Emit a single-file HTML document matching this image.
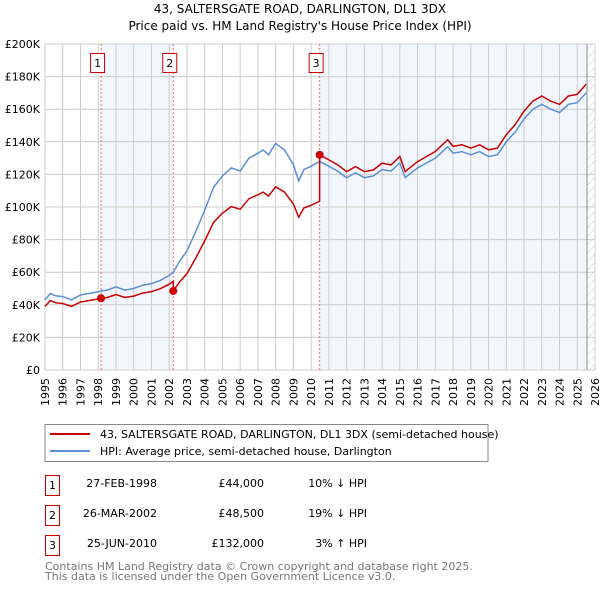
<!DOCTYPE html>
<html><head><meta charset="utf-8"><style>
body{margin:0;background:#fff;font-family:"DejaVu Sans","Liberation Sans",sans-serif;}
svg text{font-family:"DejaVu Sans","Liberation Sans",sans-serif;}
</style></head><body>
<svg width="600" height="590" viewBox="0 0 600 590" xmlns="http://www.w3.org/2000/svg">
<defs><pattern id="hatch" width="6" height="6" patternUnits="userSpaceOnUse" patternTransform="rotate(45)"><line x1="0" y1="0" x2="0" y2="6" stroke="#ccc" stroke-width="1"/></pattern></defs>
<text x="300" y="13" text-anchor="middle" font-size="12" fill="#000">43, SALTERSGATE ROAD, DARLINGTON, DL1 3DX</text>
<text x="300" y="30" text-anchor="middle" font-size="12" fill="#000">Price paid vs. HM Land Registry's House Price Index (HPI)</text>
<g id="plot"></g>
<g>
<rect x="45" y="424.5" width="443" height="37" fill="#fff" stroke="#888"/>
<line x1="50" y1="434" x2="90" y2="434" stroke="#cc0000" stroke-width="2"/>
<text x="100" y="438" font-size="11">43, SALTERSGATE ROAD, DARLINGTON, DL1 3DX (semi-detached house)</text>
<line x1="50" y1="451" x2="90" y2="451" stroke="#5b8fd6" stroke-width="2"/>
<text x="100" y="455" font-size="11">HPI: Average price, semi-detached house, Darlington</text>
</g>
<g font-size="11">
<rect x="45.5" y="475.5" width="14" height="20" fill="none" stroke="#cc0000"/><text x="52.5" y="489" text-anchor="middle">1</text>
<text x="157" y="487" text-anchor="end">27-FEB-1998</text><text x="264" y="487" text-anchor="end">£44,000</text><text x="367" y="487" text-anchor="end">10% ↓ HPI</text>
<rect x="45.5" y="505.5" width="14" height="20" fill="none" stroke="#cc0000"/><text x="52.5" y="519" text-anchor="middle">2</text>
<text x="157" y="517" text-anchor="end">26-MAR-2002</text><text x="264" y="517" text-anchor="end">£48,500</text><text x="367" y="517" text-anchor="end">19% ↓ HPI</text>
<rect x="45.5" y="535.5" width="14" height="20" fill="none" stroke="#cc0000"/><text x="52.5" y="549" text-anchor="middle">3</text>
<text x="157" y="547" text-anchor="end">25-JUN-2010</text><text x="264" y="547" text-anchor="end">£132,000</text><text x="367" y="547" text-anchor="end">3% ↑ HPI</text>
</g>
<text x="45" y="570" font-size="11" fill="#777">Contains HM Land Registry data © Crown copyright and database right 2025.</text>
<text x="45" y="580" font-size="11" fill="#777">This data is licensed under the Open Government Licence v3.0.</text>
</svg>
<script>
const hpiYears=[1995,1995.3,1995.6,1996,1996.5,1997,1997.5,1998,1998.16,1998.5,1999,1999.5,2000,2000.5,2001,2001.5,2002,2002.23,2002.6,2003,2003.5,2004,2004.5,2005,2005.5,2006,2006.5,2007,2007.3,2007.6,2008,2008.5,2009,2009.3,2009.6,2010,2010.48,2011,2011.5,2012,2012.5,2013,2013.5,2014,2014.5,2015,2015.3,2016,2016.5,2017,2017.7,2018,2018.5,2019,2019.5,2020,2020.5,2021,2021.5,2022,2022.5,2023,2023.5,2024,2024.5,2025,2025.5];
const hpiValues=[43000,47000,45500,45000,43000,46000,47000,48000,48500,49000,51000,49000,50000,52000,53000,55000,58000,60000,67000,73000,85000,98000,112000,119000,124000,122000,130000,133000,135000,132000,139000,135000,126000,116000,123000,125000,128000,125000,122000,118000,121000,118000,119000,123000,122000,127000,118000,124000,127000,130000,137000,133000,134000,132000,134000,131000,132000,140000,146000,154000,160000,163000,160000,158000,163000,164000,170000];
const saleDates=[1998.16,2002.23,2010.48];
const salePrices=[44000,48500,132000];
const saleLabels=["1","2","3"];
const yTicks=[0,20000,40000,60000,80000,100000,120000,140000,160000,180000,200000];
const yTickLabels=["£0","£20K","£40K","£60K","£80K","£100K","£120K","£140K","£160K","£180K","£200K"];
const xTicks=[1995,1996,1997,1998,1999,2000,2001,2002,2003,2004,2005,2006,2007,2008,2009,2010,2011,2012,2013,2014,2015,2016,2017,2018,2019,2020,2021,2022,2023,2024,2025,2026];
const L=45,R=595,T=44,B=370,X0=1995,X1=2026,DATA_END=2025.55;
const sx=v=>L+(v-X0)/(X1-X0)*(R-L);
const sy=v=>B-v/200000*(B-T);
const NS="http://www.w3.org/2000/svg";
const g=document.getElementById('plot');
function mk(t,a,p){const e=document.createElementNS(NS,t);for(const k in a)e.setAttribute(k,a[k]);(p||g).appendChild(e);return e;}
function hpiAt(t){for(let i=0;i<hpiYears.length-1;i++){if(t<=hpiYears[i+1]){const f=(t-hpiYears[i])/(hpiYears[i+1]-hpiYears[i]);return hpiValues[i]+f*(hpiValues[i+1]-hpiValues[i]);}}return hpiValues[hpiValues.length-1];}
let s1=mk('rect',{x:sx(saleDates[0]),y:T,width:sx(saleDates[1])-sx(saleDates[0]),height:B-T,fill:'#eef3fc',opacity:0.7});


let s2=mk('rect',{x:sx(saleDates[2]),y:T,width:sx(DATA_END)-sx(saleDates[2]),height:B-T,fill:'#eef3fc',opacity:0.7});


let h=mk('rect',{x:sx(DATA_END),y:T,width:R-sx(DATA_END),height:B-T,fill:'url(#hatch)'});


yTicks.forEach((v,i)=>{
 let l=mk('line',{x1:L,x2:R,y1:sy(v),y2:sy(v),stroke:'#ccc','stroke-width':1});
 
 
 let t=mk('text',{x:L-5,y:sy(v)+4,'text-anchor':'end','font-size':11});
 t.textContent=yTickLabels[i];
 
 
});
xTicks.forEach(v=>{
 let l=mk('line',{x1:sx(v),x2:sx(v),y1:T,y2:B,stroke:'#ccc','stroke-width':1});
 
 
 let t=mk('text',{x:0,y:0,'text-anchor':'end','font-size':11,transform:`translate(${sx(v)+4},${B+8}) rotate(-90)`});
 t.textContent=String(v);
 
 
});
let fr=mk('rect',{x:L,y:T,width:R-L,height:B-T,fill:'none',stroke:'#ccc'});


let el=mk('line',{x1:sx(DATA_END),x2:sx(DATA_END),y1:T,y2:B,stroke:'#888'});


saleDates.forEach((d,i)=>{
 let l=mk('line',{x1:sx(d),x2:sx(d),y1:T,y2:B,stroke:'#f07070','stroke-dasharray':'2,2'});
 
 
 let r=mk('rect',{x:sx(d)-10.5,y:53.5,width:14,height:19,fill:'#fff',stroke:'#cc0000'});
 
 
 let t=mk('text',{x:sx(d)-3.5,y:67,'text-anchor':'middle','font-size':11});
 t.textContent=saleLabels[i];
 
 
});
let hp=hpiYears.map((y,i)=>`${i?'L':'M'}${sx(y).toFixed(1)},${sy(hpiValues[i]).toFixed(1)}`).join('');
let hl=mk('path',{d:hp,fill:'none',stroke:'#5b8fd6','stroke-width':1.5});


let pts=[];
hpiYears.forEach((y,i)=>{
 let k=0;for(let j=0;j<saleDates.length;j++) if(y>=saleDates[j]) k=j;
 if(i>0){
  for(let j=1;j<saleDates.length;j++) if(hpiYears[i-1]<saleDates[j]&&y>=saleDates[j]){
   const d=saleDates[j];pts.push([d,salePrices[j-1]*hpiAt(d)/hpiAt(saleDates[j-1])]);pts.push([d,salePrices[j]]);}
 }
 pts.push([y,salePrices[k]*hpiValues[i]/hpiAt(saleDates[k])]);
});
let rp=pts.map((p,i)=>`${i?'L':'M'}${sx(p[0]).toFixed(1)},${sy(p[1]).toFixed(1)}`).join('');
let rl=mk('path',{d:rp,fill:'none',stroke:'#cc0000','stroke-width':1.5});


saleDates.forEach((d,i)=>{
 let c=mk('circle',{cx:sx(d),cy:sy(salePrices[i]),r:4,fill:'#cc0000'});
 
 
});
</script>
</body></html>
